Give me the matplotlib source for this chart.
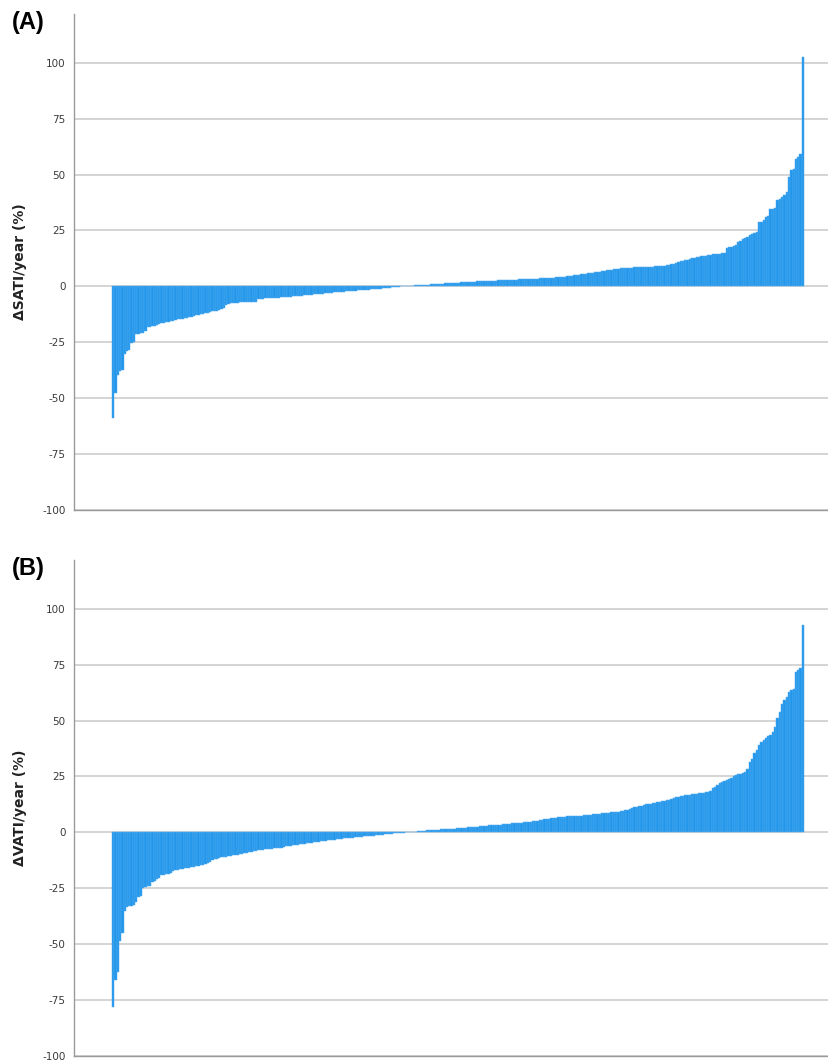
import numpy as np
import matplotlib
matplotlib.use("Agg")
import matplotlib.pyplot as plt

# sorted per-patient change, panel A (SATI) and panel B (VATI)
sati = [
    -59.0, -47.5, -39.5, -38.0, -37.6, -30.2, -28.8, -28.4, -25.3, -24.9,
    -21.3, -21.2, -21.0, -20.8, -19.9, -18.2, -18.0, -17.8, -17.6, -17.2,
    -16.8,
    -16.5, -16.2, -16.0, -15.8, -15.5, -15.3, -15.0, -14.8, -14.6, -14.4,
    -14.2, -14.0, -13.7, -13.5, -13.2, -13.0, -12.7, -12.5,
    -12.2, -12.0, -11.7, -11.5, -11.2, -11.0, -10.8, -10.5, -10.2, -9.8,
    -8.5, -7.8, -7.5, -7.4, -7.3, -7.3, -7.2, -7.2, -7.1, -7.1, -7.0, -7.0, -6.9, -6.8,
    -5.7, -5.6, -5.5, -5.4, -5.3, -5.3, -5.2, -5.1, -5.1, -5.0, -4.9,
    -4.8, -4.7, -4.6, -4.6, -4.5, -4.4, -4.3, -4.2, -4.1, -4.0, -3.9, -3.8, -3.7, -3.6,
    -3.5, -3.4, -3.3, -3.2, -3.1, -3.0, -2.9, -2.8, -2.7, -2.6, -2.5, -2.4, -2.3, -2.25, -2.2,
    -2.1, -2.0, -1.9, -1.8, -1.7, -1.6, -1.5, -1.45, -1.4, -1.3, -1.25, -1.2, -1.1, -1.0,
    -0.9, -0.8, -0.7, -0.6, -0.5, -0.4, -0.3, -0.2,
    0.05, 0.1, 0.15, 0.2, 0.3, 0.35, 0.4, 0.5, 0.55, 0.6, 0.7, 0.75, 0.8, 0.9, 1.0,
    1.05, 1.1, 1.2, 1.25, 1.3, 1.4, 1.45, 1.5, 1.6, 1.65, 1.7, 1.8, 1.85, 1.9, 2.0,
    2.05, 2.1, 2.15, 2.2, 2.25, 2.3, 2.35, 2.4, 2.45, 2.5, 2.55, 2.6, 2.65, 2.7,
    2.75, 2.8, 2.85, 2.9, 2.95, 3.0, 3.05, 3.1, 3.15, 3.2, 3.25, 3.3, 3.35, 3.4, 3.45,
    3.5, 3.55, 3.6, 3.7, 3.75, 3.8, 3.9, 3.95, 4.0, 4.1, 4.2, 4.3, 4.4, 4.5,
    4.6, 4.75, 4.9, 5.1, 5.3, 5.45, 5.6, 5.75, 5.9, 6.0, 6.1, 6.25, 6.4, 6.5,
    6.7, 6.9, 7.1, 7.3, 7.5, 7.6, 7.8, 7.9, 8.0, 8.1, 8.2, 8.3, 8.35, 8.4, 8.5,
    8.55, 8.6, 8.6, 8.65, 8.7, 8.75, 8.8, 8.85, 8.9, 8.95, 9.0, 9.1, 9.3, 9.5, 9.6, 9.8,
    10.1, 10.4, 10.8, 11.2, 11.5, 11.8, 12.0, 12.3, 12.6, 12.9, 13.1, 13.3, 13.4,
    13.5, 13.7, 13.9, 14.1, 14.3, 14.4, 14.5, 14.7, 14.9, 15.1,
    17.3, 17.6, 17.8, 18.0, 18.6, 19.7, 20.3, 21.0, 21.6, 22.2, 23.0,
    23.5, 24.0, 24.5, 28.6, 29.0, 29.5, 31.0, 31.5, 34.5, 34.5, 35.0, 38.5,
    39.0, 40.0, 41.0, 42.0, 48.7, 52.0, 52.5, 57.0, 58.0, 59.0, 102.5,
]

vati = [
    -78.0, -66.0, -62.5, -48.6, -45.0, -35.0, -33.2, -33.0, -32.8, -32.6,
    -31.0, -28.8, -28.4, -25.0, -24.6, -24.2, -23.8, -22.2, -21.8, -20.8,
    -20.5,
    -19.2, -19.0, -18.8, -18.5, -18.3, -17.2, -17.0, -16.8, -16.5, -16.3,
    -16.1, -16.0, -15.8, -15.5, -15.3, -15.1, -15.0, -14.8,
    -14.5, -14.2, -13.8, -13.4, -12.5, -12.1, -11.8, -11.5, -11.2, -11.0,
    -10.9, -10.7, -10.5, -10.3, -10.1, -9.9, -9.7, -9.5, -9.3, -9.1, -8.9, -8.7, -8.5, -8.3,
    -8.1, -7.9, -7.7, -7.6, -7.5, -7.4, -7.3, -7.2, -7.1, -7.0, -6.8,
    -6.5, -6.3, -6.1, -6.0, -5.8, -5.6, -5.5, -5.3, -5.1, -5.0, -4.9, -4.8, -4.6, -4.5,
    -4.3, -4.2, -4.0, -3.9, -3.7, -3.6, -3.4, -3.3, -3.2, -3.0, -2.9, -2.8, -2.7, -2.6, -2.5,
    -2.4, -2.3, -2.2, -2.1, -2.0, -1.9, -1.8, -1.7, -1.6, -1.5, -1.4, -1.3, -1.2, -1.1,
    -1.0, -0.9, -0.8, -0.7, -0.6, -0.5, -0.4, -0.3, -0.2, -0.1,
    0.05, 0.1, 0.2, 0.3, 0.35, 0.45, 0.55, 0.65, 0.75, 0.85, 0.95, 1.05, 1.15,
    1.2, 1.25, 1.3, 1.4, 1.45, 1.5, 1.6, 1.65, 1.7, 1.8, 1.85, 1.9, 2.0, 2.1, 2.2,
    2.3, 2.4, 2.5, 2.6, 2.7, 2.8, 2.9, 3.0, 3.1, 3.2, 3.25, 3.3, 3.4, 3.5,
    3.6, 3.7, 3.8, 3.9, 4.0, 4.1, 4.2, 4.3, 4.4, 4.5, 4.6, 4.7, 4.8, 4.9, 5.0,
    5.2, 5.4, 5.6, 5.8, 6.0, 6.2, 6.4, 6.5, 6.6, 6.7, 6.8, 6.9, 7.0, 7.1,
    7.2, 7.25, 7.3, 7.35, 7.4, 7.5, 7.6, 7.7, 7.8, 7.9, 8.0, 8.1, 8.2, 8.4,
    8.5, 8.6, 8.7, 8.8, 8.9, 9.0, 9.1, 9.3, 9.5, 9.7, 9.8, 10.0, 10.3, 10.8, 11.3,
    11.5, 11.8, 12.0, 12.3, 12.5, 12.7, 12.9, 13.1, 13.3, 13.6, 13.8, 14.0, 14.2, 14.4, 14.6, 14.8,
    15.2, 15.6, 16.0, 16.2, 16.4, 16.6, 16.8, 16.9, 17.0, 17.1, 17.3, 17.5, 17.6,
    17.8, 17.9, 18.0, 18.5, 19.8, 20.5, 21.3, 22.0, 22.5, 23.0,
    23.5, 24.0, 24.5, 25.2, 25.8, 26.0, 26.3, 26.5, 27.0, 28.5, 31.5,
    33.0, 35.6, 37.0, 39.0, 40.5, 41.4, 42.0, 43.0, 43.6, 45.0, 47.0, 51.0,
    54.0, 57.6, 59.0, 60.5, 62.8, 63.5, 64.3, 71.7, 72.5, 73.3, 92.6,
]

panels = ["(A)", "(B)"]
ylabels = ["\u0394SATI/year (%)", "\u0394VATI/year (%)"]
yticks = [-100, -75, -50, -25, 0, 25, 50, 75, 100]

W, H = 829, 1063
fig = plt.figure(figsize=(W / 100, H / 100), dpi=100)

boxes = [(74, 14, 510), (74, 560, 1056)]  # left, top, bottom in px

for k, (vals, box) in enumerate(zip([sati, vati], boxes)):
    left, top, bot = box
    ax = fig.add_axes([left / W, 1 - bot / H, (W - left) / W, (bot - top) / H])
    x = np.arange(len(vals))
    ax.bar(x, vals, width=1.0, color="#2196ea", edgecolor="#55acf0", linewidth=0.35, zorder=3)
    ax.set_xlim(-16.97, 310.3)
    ax.set_ylim(-100, 121.8)
    ax.set_yticks(yticks)
    ax.set_yticklabels([str(t) for t in yticks], fontsize=7.5, color="#3a3a3a")
    ax.tick_params(axis="y", length=0, pad=6)
    ax.set_xticks([])
    ax.grid(axis="y", color="#d4d4d4", linewidth=1.4, zorder=0)
    for s in ["top", "right"]:
        ax.spines[s].set_visible(False)
    ax.spines["left"].set_color("#9a9a9a")
    ax.spines["bottom"].set_color("#9a9a9a")
    ax.spines["left"].set_linewidth(1.0)
    ax.spines["bottom"].set_linewidth(1.0)

    fig.text(20 / W, 1 - (top + bot) / 2 / H, ylabels[k], rotation=90,
             ha="center", va="center", fontsize=10, fontweight="bold", color="#222222")
    fig.text(12 / W, 1 - (top + 9) / H, panels[k], ha="left", va="center",
             fontsize=17, fontweight="bold", family="Liberation Sans")

fig.savefig("out.png", dpi=100)
